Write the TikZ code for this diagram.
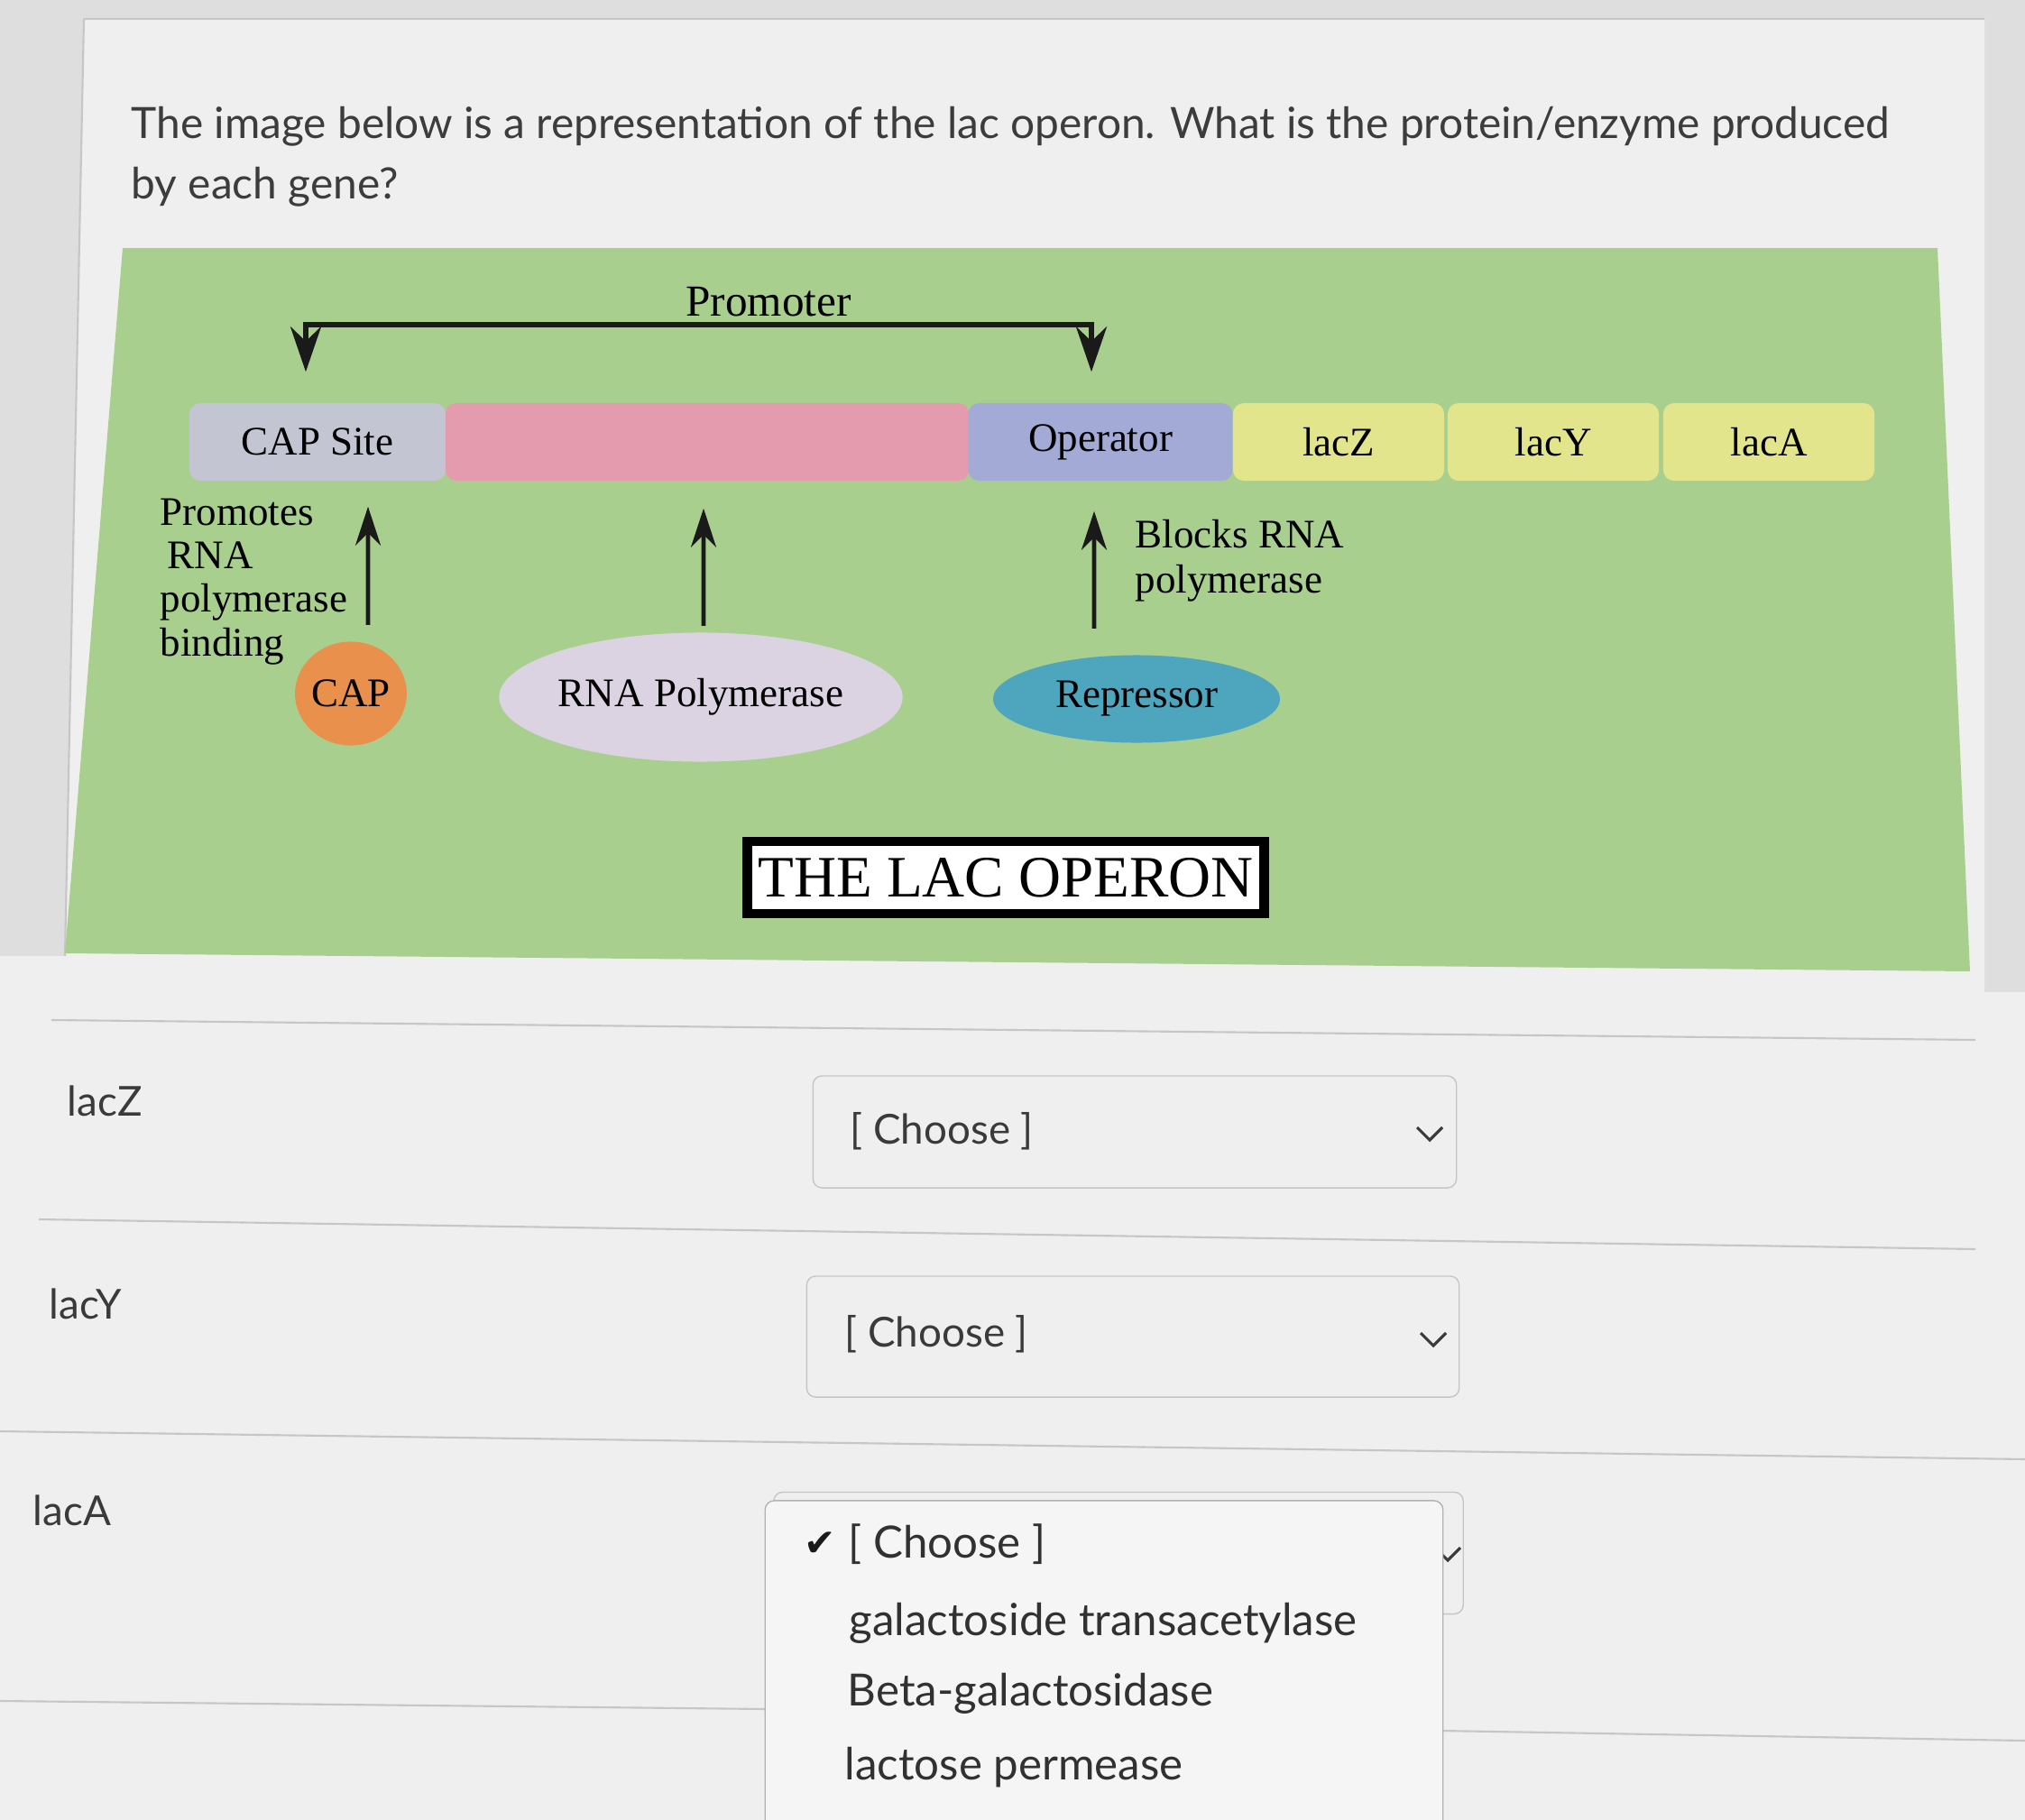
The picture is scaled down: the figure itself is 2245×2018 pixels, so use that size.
\documentclass[tikz,border=0pt]{standalone}
\usepackage{fontspec}
\setmainfont{Liberation Serif}
\newfontfamily\uifont{Lato}
\newfontfamily\symfont{DejaVu Sans}
\usetikzlibrary{arrows.meta,shapes.geometric}
\definecolor{pagegray}{HTML}{DEDEDE}
\definecolor{cardbg}{HTML}{EFEFEF}
\definecolor{imggreen}{HTML}{A9CF8F}
\definecolor{capgray}{HTML}{C3C6D2}
\definecolor{promopink}{HTML}{E59BAE}
\definecolor{operblue}{HTML}{A3AAD6}
\definecolor{geneyellow}{HTML}{E3E58C}
\definecolor{caporange}{HTML}{E8904C}
\definecolor{rnapale}{HTML}{DCD3E2}
\definecolor{represteal}{HTML}{4DA6BE}
\definecolor{dark}{HTML}{1A1A1A}
\definecolor{uitext}{HTML}{3A3A3A}
\definecolor{rulegray}{HTML}{C6C6C6}
\tikzset{
  seg/.style={rounded corners=1.2mm, minimum height=8.6mm, inner sep=0pt, font=\fontsize{12.8}{14}\selectfont},
  capbox/.style={seg, fill=capgray},
  pinkbox/.style={seg, fill=promopink},
  operbox/.style={seg, fill=operblue},
  genebox/.style={seg, fill=geneyellow, minimum width=2.34cm},
  blob/.style={ellipse, inner sep=0pt, font=\fontsize{12.8}{14}\selectfont},
  note/.style={align=left, inner sep=0pt, anchor=west},
  uparrow/.style={-{Stealth[length=4.3mm,width=2.8mm]}, line width=1.3pt, draw=dark},
  bracket/.style={{Stealth[length=5mm,width=3.4mm]}-{Stealth[length=5mm,width=3.4mm]}, line width=1.7pt, draw=dark},
  uitxt/.style={font=\uifont\fontsize{13}{16}\selectfont, text=uitext, anchor=west, inner sep=0pt},
  menutxt/.style={uitxt, font=\uifont\fontsize{14}{16}\selectfont, text=dark!90},
  selectbox/.style={draw=rulegray, rounded corners=1mm, fill=cardbg, inner sep=0pt},
  chev/.style={draw=uitext, line width=0.9pt},
  rule/.style={draw=rulegray, line width=0.6pt}
}
\begin{document}
\begin{tikzpicture}[x=0.01cm, y=-0.01cm]
  \useasboundingbox (0,0) rectangle (2245,2018);
  % page and card
  \fill[pagegray] (0,0) rectangle (2245,2018);
  \fill[cardbg] (93,21) -- (2200,21) -- (2200,1100) -- (2245,1100) -- (2245,2018)
    -- (0,2018) -- (0,1060) -- (72,1060) -- cycle;
  \draw[rule] (93,21) -- (2200,21);
  \draw[rule] (93,21) -- (72,1060);

  \node[uitxt, align=left, font=\uifont\fontsize{13.6}{19}\selectfont, text=dark!85] (question) at (145,174)
    {The image below is a representation of the lac operon. What is the protein/enzyme produced\\by each gene?};

  % the operon picture
  \fill[imggreen] (136,275) -- (2148,275) -- (2184,1077) -- (72,1057) -- cycle;

  \node[font=\fontsize{14}{16}\selectfont] (promlabel) at (852,335) {Promoter};

  \node[capbox, minimum width=2.84cm] (capsite) at (352,490) {CAP Site};
  \node[pinkbox, minimum width=5.80cm] (promo) at (784,490) {};
  \node[operbox, minimum width=2.93cm] (operator) at (1220,490) {Operator};
  \node[genebox] (lacz) at (1484,490) {lacZ};
  \node[genebox] (lacy) at (1722,490) {lacY};
  \node[genebox] (laca) at (1961,490) {lacA};

  \draw[bracket] ([xshift=-1.3mm,yshift=3.4mm]capsite.north) -- ++(0,-52)
    -| ([xshift=-1mm,yshift=3.4mm]operator.north);

  \node[blob, fill=caporange, minimum width=1.0cm, minimum height=1.15cm] (cap) at (389,769) {CAP};
  \node[blob, fill=rnapale, minimum width=4.15cm, minimum height=1.43cm] (rnap) at (777,773) {RNA Polymerase};
  \node[blob, fill=represteal, minimum width=3.18cm, minimum height=0.97cm] (repressor) at (1260,775) {Repressor};

  \draw[uparrow] ([xshift=1.9mm,yshift=1.8mm]cap.north) -- ([xshift=5.6mm,yshift=-2.8mm]capsite.south);
  \draw[uparrow] ([xshift=0.3mm,yshift=0.7mm]rnap.north) -- ([xshift=-0.4mm,yshift=-3mm]promo.south);
  \draw[uparrow] ([xshift=-4.7mm,yshift=2.9mm]repressor.north) -- ([xshift=-0.7mm,yshift=-3.3mm]operator.south);

  \node[note, font=\fontsize{12.8}{13.7}\selectfont] (promotes) at (177,645) {Promotes\\\hspace{0.8mm}RNA\\polymerase\\binding};
  \node[note, font=\fontsize{12.8}{14.2}\selectfont] (blocks) at (1258,622) {Blocks RNA\\polymerase};

  \node[draw=black, line width=3.1pt, fill=white, minimum width=5.73cm, minimum height=0.80cm,
    inner sep=0pt, font=\fontsize{18.5}{20}\selectfont] (title) at (1115,973) {THE LAC OPERON};

  % answer rows
  \draw[rule] (57,1131) -- (2190,1153);
  \draw[rule] (43,1352) -- (2190,1385);
  \draw[rule] (0,1587) -- (2245,1618);
  \draw[rule] (0,1886) -- (850,1895);
  \draw[rule] (1597,1919) -- (2245,1930);

  \node[uitxt] (labz) at (74,1221) {lacZ};
  \node[uitxt] (laby) at (54,1446) {lacY};
  \node[uitxt] (laba) at (36,1675) {lacA};

  \node[selectbox, minimum width=7.13cm, minimum height=1.24cm] (selz) at (1258,1255) {};
  \node[uitxt] (choosez) at (942,1254) {[ Choose ]};
  \draw[chev] (1571,1250) -- (1585,1264) -- (1599,1250);

  \node[selectbox, minimum width=7.23cm, minimum height=1.34cm] (sely) at (1256,1482) {};
  \node[uitxt] (choosey) at (936,1479) {[ Choose ]};
  \draw[chev] (1575,1478) -- (1589,1492) -- (1603,1478);

  \node[selectbox, minimum width=7.64cm, minimum height=1.35cm] (sela) at (1240,1722) {};
  \draw[chev] (1591,1716) -- (1605,1730) -- (1619,1716);

  % open list
  \node[selectbox, draw=rulegray!90!black, fill=cardbg!60!white, minimum width=7.51cm, minimum height=3.9cm] (menu) at (1224,1859) {};
  \node[uitxt, font=\symfont\fontsize{12}{14}\selectfont, text=dark] (tick) at (891,1712) {✔};
  \node[menutxt] (choosea) at (940,1712) {[ Choose ]};
  \node[menutxt] (opt1) at (941,1800) {galactoside transacetylase};
  \node[menutxt] (opt2) at (939,1878) {Beta-galactosidase};
  \node[menutxt] (opt3) at (936,1960) {lactose permease};
\end{tikzpicture}
\end{document}
